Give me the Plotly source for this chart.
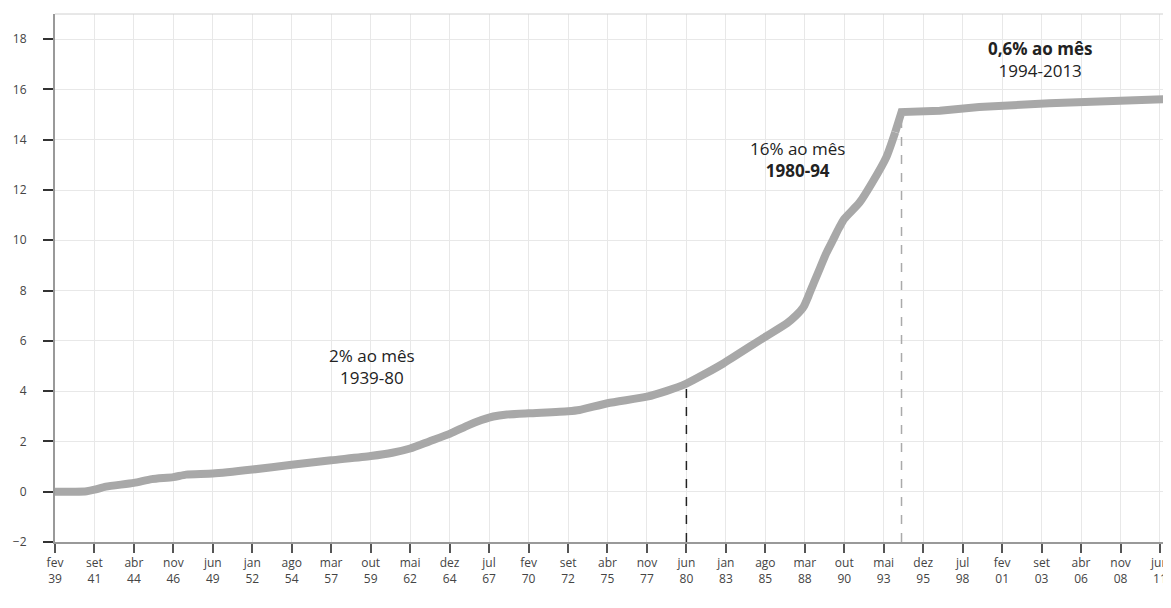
import plotly.graph_objects as go

# Series: date (year-month) and value
dates = ["1939-02", "1940-06", "1941-03", "1941-09", "1942-06", "1944-04", "1945-06",
         "1946-11", "1947-09", "1949-06", "1952-01", "1954-08", "1957-03", "1959-10",
         "1961-03", "1962-05", "1963-08", "1964-12", "1966-03", "1967-01", "1967-07",
         "1968-03", "1968-09", "1970-02", "1972-09", "1973-06", "1975-04", "1977-11",
         "1979-02", "1980-06", "1981-09", "1982-11", "1985-06", "1987-01",
         "1987-08", "1988-02", "1988-06", "1988-10", "1989-03", "1989-08", "1990-01",
         "1990-06", "1990-10", "1991-10", "1992-08", "1993-07", "1994-02", "1994-06",
         "1994-07", "1997-01", "1999-08", "2004-03", "2012-02", "2013-06"]
values = [0.0, 0.0, 0.02, 0.08, 0.2, 0.35, 0.5,
          0.58, 0.68, 0.72, 0.88, 1.07, 1.25, 1.42,
          1.55, 1.72, 2.0, 2.3, 2.65, 2.85, 2.95,
          3.03, 3.07, 3.12, 3.2, 3.25, 3.52, 3.78,
          4.0, 4.3, 4.7, 5.1, 6.1, 6.7,
          7.0, 7.35, 7.8, 8.3, 8.9, 9.5, 10.0,
          10.5, 10.85, 11.5, 12.3, 13.3, 14.3, 15.05,
          15.1, 15.15, 15.3, 15.45, 15.58, 15.65]

tick_dates = ["1939-02", "1941-09", "1944-04", "1946-11", "1949-06", "1952-01", "1954-08",
              "1957-03", "1959-10", "1962-05", "1964-12", "1967-07", "1970-02", "1972-09",
              "1975-04", "1977-11", "1980-06", "1983-01", "1985-08", "1988-03", "1990-10",
              "1993-05", "1995-12", "1998-07", "2001-02", "2003-09", "2006-04", "2008-11",
              "2011-06"]
tick_labels = ["fev<br>39", "set<br>41", "abr<br>44", "nov<br>46", "jun<br>49", "jan<br>52",
               "ago<br>54", "mar<br>57", "out<br>59", "mai<br>62", "dez<br>64", "jul<br>67",
               "fev<br>70", "set<br>72", "abr<br>75", "nov<br>77", "jun<br>80", "jan<br>83",
               "ago<br>85", "mar<br>88", "out<br>90", "mai<br>93", "dez<br>95", "jul<br>98",
               "fev<br>01", "set<br>03", "abr<br>06", "nov<br>08", "jun<br>11"]

y_ticks = [-2, 0, 2, 4, 6, 8, 10, 12, 14, 16, 18]

break_dates = ["1980-06", "1994-07"]
break_colors = ["#222222", "#aaaaaa"]

annot_dates = ["1959-11", "1987-09", "2003-08"]
annot_values = [5.0, 13.2, 17.2]
annot_texts = ["2% ao mês<br>1939-80", "16% ao mês<br><b>1980-94</b>",
               "<b>0,6% ao mês</b><br>1994-2013"]

fig = go.Figure()
split = dates.index("1994-02")
segments = [(0, split + 1, "spline"), (split, len(dates), "linear")]
for a, b, shape in segments:
    fig.add_trace(go.Scatter(
        x=[d + "-01" for d in dates[a:b]], y=values[a:b], mode="lines",
        line=dict(color="#a8a8a8", width=8, shape=shape, smoothing=0.6),
        hoverinfo="skip", showlegend=False,
    ))

lookup = dict(zip(dates, values))
for d, c in zip(break_dates, break_colors):
    fig.add_shape(type="line", xref="x", yref="y",
                  x0=d + "-01", x1=d + "-01", y0=y_ticks[0], y1=lookup[d],
                  line=dict(color=c, width=1.5, dash="dash"), layer="between")

for d, v, t in zip(annot_dates, annot_values, annot_texts):
    fig.add_annotation(x=d + "-01", y=v, text=t, showarrow=False,
                       font=dict(family="Open Sans", size=17, color="#222222"),
                       align="center")

# top border
fig.add_shape(type="line", xref="paper", yref="paper", x0=0, x1=1, y0=1, y1=1,
              line=dict(color="#d0d0d0", width=1))

fig.update_layout(
    width=1163, height=600,
    margin=dict(l=47, r=0, t=6, b=66, autoexpand=False),
    paper_bgcolor="white", plot_bgcolor="white",
    font=dict(family="Open Sans", color="#333333"),
    xaxis=dict(
        type="date",
        range=["1939-02-01", "2012-02-20"],
        tickmode="array",
        tickvals=[d + "-01" for d in tick_dates],
        ticktext=tick_labels,
        ticks="outside", ticklen=9, tickwidth=2, tickcolor="#555555",
        showgrid=True, gridcolor="#e8e8e8", gridwidth=1,
        showline=True, linecolor="#999999", linewidth=2,
        tickfont=dict(size=12, color="#444444"),
        zeroline=False, automargin=False,
    ),
    yaxis=dict(
        range=[-2, 19],
        tickmode="array", tickvals=y_ticks,
        ticktext=["\u22122" if t < 0 else str(t) for t in y_ticks],
        ticks="outside", ticklen=10, tickwidth=2, tickcolor="#333333",
        ticklabelstandoff=14,
        showgrid=True, gridcolor="#e8e8e8", gridwidth=1,
        showline=True, linecolor="#999999", linewidth=2,
        tickfont=dict(size=12, color="#444444"),
        zeroline=False, automargin=False,
    ),
)

fig.write_html("out.html")
